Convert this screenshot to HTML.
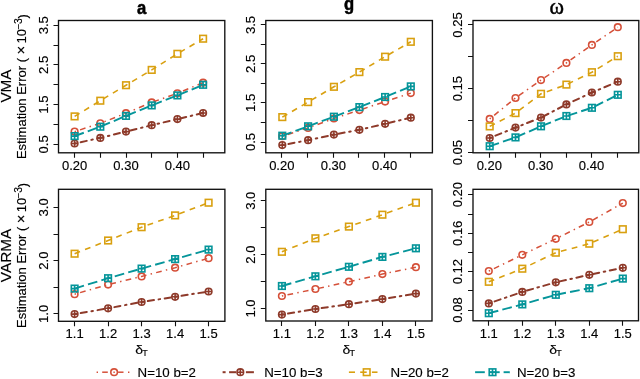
<!DOCTYPE html><html><head><meta charset="utf-8"><style>html,body{margin:0;padding:0;background:#fff;width:640px;height:379px;overflow:hidden}svg{display:block;will-change:transform}text{font-family:"Liberation Sans",sans-serif;stroke:#000;stroke-width:0.15px}</style></head><body>
<svg width="640" height="379" viewBox="0 0 640 379">
<rect width="640" height="379" fill="#fff"/>
<polyline points="74.6,131.6 100.3,123.3 126.0,113.2 151.7,102.4 177.4,93.3 203.1,82.7" fill="none" stroke="#D55039" stroke-width="1.5" stroke-dasharray="1.43 4.3 5.7 4.3" stroke-linecap="butt"/>
<circle cx="74.6" cy="131.6" r="3.3" fill="none" stroke="#D55039" stroke-width="1.6"/>
<circle cx="100.3" cy="123.3" r="3.3" fill="none" stroke="#D55039" stroke-width="1.6"/>
<circle cx="126.0" cy="113.2" r="3.3" fill="none" stroke="#D55039" stroke-width="1.6"/>
<circle cx="151.7" cy="102.4" r="3.3" fill="none" stroke="#D55039" stroke-width="1.6"/>
<circle cx="177.4" cy="93.3" r="3.3" fill="none" stroke="#D55039" stroke-width="1.6"/>
<circle cx="203.1" cy="82.7" r="3.3" fill="none" stroke="#D55039" stroke-width="1.6"/>
<polyline points="74.6,143.5 100.3,137.9 126.0,131.6 151.7,125.2 177.4,119.1 203.1,113.0" fill="none" stroke="#8E3A2A" stroke-width="2.0" stroke-dasharray="1.55 4.65 6.2 4.65" stroke-linecap="round"/>
<circle cx="74.6" cy="143.5" r="3.3" fill="none" stroke="#8E3A2A" stroke-width="1.6"/><path d="M71.3 143.5H77.9M74.6 140.2V146.8" stroke="#8E3A2A" stroke-width="1.6"/>
<circle cx="100.3" cy="137.9" r="3.3" fill="none" stroke="#8E3A2A" stroke-width="1.6"/><path d="M97.0 137.9H103.6M100.3 134.6V141.2" stroke="#8E3A2A" stroke-width="1.6"/>
<circle cx="126.0" cy="131.6" r="3.3" fill="none" stroke="#8E3A2A" stroke-width="1.6"/><path d="M122.7 131.6H129.3M126.0 128.3V134.9" stroke="#8E3A2A" stroke-width="1.6"/>
<circle cx="151.7" cy="125.2" r="3.3" fill="none" stroke="#8E3A2A" stroke-width="1.6"/><path d="M148.4 125.2H155.0M151.7 121.9V128.5" stroke="#8E3A2A" stroke-width="1.6"/>
<circle cx="177.4" cy="119.1" r="3.3" fill="none" stroke="#8E3A2A" stroke-width="1.6"/><path d="M174.1 119.1H180.7M177.4 115.8V122.4" stroke="#8E3A2A" stroke-width="1.6"/>
<circle cx="203.1" cy="113.0" r="3.3" fill="none" stroke="#8E3A2A" stroke-width="1.6"/><path d="M199.8 113.0H206.4M203.1 109.7V116.3" stroke="#8E3A2A" stroke-width="1.6"/>
<polyline points="74.6,116.4 100.3,100.7 126.0,85.2 151.7,69.9 177.4,53.8 203.1,38.7" fill="none" stroke="#D9A010" stroke-width="1.6" stroke-dasharray="5.8 5.4" stroke-linecap="butt"/>
<rect x="71.3" y="113.1" width="6.6" height="6.6" fill="none" stroke="#D9A010" stroke-width="1.6"/>
<rect x="97.0" y="97.4" width="6.6" height="6.6" fill="none" stroke="#D9A010" stroke-width="1.6"/>
<rect x="122.7" y="81.9" width="6.6" height="6.6" fill="none" stroke="#D9A010" stroke-width="1.6"/>
<rect x="148.4" y="66.6" width="6.6" height="6.6" fill="none" stroke="#D9A010" stroke-width="1.6"/>
<rect x="174.1" y="50.5" width="6.6" height="6.6" fill="none" stroke="#D9A010" stroke-width="1.6"/>
<rect x="199.8" y="35.4" width="6.6" height="6.6" fill="none" stroke="#D9A010" stroke-width="1.6"/>
<polyline points="74.6,136.1 100.3,126.7 126.0,115.9 151.7,105.4 177.4,95.4 203.1,84.8" fill="none" stroke="#05959A" stroke-width="1.9" stroke-dasharray="9.8 4.2" stroke-linecap="butt"/>
<rect x="71.3" y="132.8" width="6.6" height="6.6" fill="none" stroke="#05959A" stroke-width="1.6"/><path d="M71.3 136.1H77.9M74.6 132.8V139.4" stroke="#05959A" stroke-width="1.6"/>
<rect x="97.0" y="123.4" width="6.6" height="6.6" fill="none" stroke="#05959A" stroke-width="1.6"/><path d="M97.0 126.7H103.6M100.3 123.4V130.0" stroke="#05959A" stroke-width="1.6"/>
<rect x="122.7" y="112.6" width="6.6" height="6.6" fill="none" stroke="#05959A" stroke-width="1.6"/><path d="M122.7 115.9H129.3M126.0 112.6V119.2" stroke="#05959A" stroke-width="1.6"/>
<rect x="148.4" y="102.1" width="6.6" height="6.6" fill="none" stroke="#05959A" stroke-width="1.6"/><path d="M148.4 105.4H155.0M151.7 102.1V108.7" stroke="#05959A" stroke-width="1.6"/>
<rect x="174.1" y="92.1" width="6.6" height="6.6" fill="none" stroke="#05959A" stroke-width="1.6"/><path d="M174.1 95.4H180.7M177.4 92.1V98.7" stroke="#05959A" stroke-width="1.6"/>
<rect x="199.8" y="81.5" width="6.6" height="6.6" fill="none" stroke="#05959A" stroke-width="1.6"/><path d="M199.8 84.8H206.4M203.1 81.5V88.1" stroke="#05959A" stroke-width="1.6"/>
<rect x="58.5" y="20.5" width="166.3" height="132.3" fill="none" stroke="#111" stroke-width="1.35"/>
<path d="M53.5 144.5H58.5M53.5 124.5H58.5M53.5 104.5H58.5M53.5 84.5H58.5M53.5 64.5H58.5M53.5 45.5H58.5M53.5 25.5H58.5M74.5 152.8V157.8M100.5 152.8V157.8M126.5 152.8V157.8M151.5 152.8V157.8M177.5 152.8V157.8M203.5 152.8V157.8" stroke="#111" stroke-width="1.1"/>
<text transform="translate(47.8,144.4) rotate(-90)" text-anchor="middle" font-size="13">0.5</text>
<text transform="translate(47.8,104.6) rotate(-90)" text-anchor="middle" font-size="13">1.5</text>
<text transform="translate(47.8,64.9) rotate(-90)" text-anchor="middle" font-size="13">2.5</text>
<text transform="translate(47.8,25.2) rotate(-90)" text-anchor="middle" font-size="13">3.5</text>
<text x="74.6" y="169.7" text-anchor="middle" font-size="13">0.20</text>
<text x="126.0" y="169.7" text-anchor="middle" font-size="13">0.30</text>
<text x="177.4" y="169.7" text-anchor="middle" font-size="13">0.40</text>
<text transform="translate(141.7,14) scale(0.98,1.06)" text-anchor="middle" font-size="17" font-weight="bold" style="stroke-width:0.5px">a</text>
<polyline points="282.3,136.2 308.1,127.9 333.9,118.5 359.4,110.1 385.1,101.6 410.8,93.1" fill="none" stroke="#D55039" stroke-width="1.5" stroke-dasharray="1.43 4.3 5.7 4.3" stroke-linecap="butt"/>
<circle cx="282.3" cy="136.2" r="3.3" fill="none" stroke="#D55039" stroke-width="1.6"/>
<circle cx="308.1" cy="127.9" r="3.3" fill="none" stroke="#D55039" stroke-width="1.6"/>
<circle cx="333.9" cy="118.5" r="3.3" fill="none" stroke="#D55039" stroke-width="1.6"/>
<circle cx="359.4" cy="110.1" r="3.3" fill="none" stroke="#D55039" stroke-width="1.6"/>
<circle cx="385.1" cy="101.6" r="3.3" fill="none" stroke="#D55039" stroke-width="1.6"/>
<circle cx="410.8" cy="93.1" r="3.3" fill="none" stroke="#D55039" stroke-width="1.6"/>
<polyline points="282.3,145.1 308.1,140.2 333.9,134.6 359.4,129.8 385.1,123.8 410.8,117.7" fill="none" stroke="#8E3A2A" stroke-width="2.0" stroke-dasharray="1.55 4.65 6.2 4.65" stroke-linecap="round"/>
<circle cx="282.3" cy="145.1" r="3.3" fill="none" stroke="#8E3A2A" stroke-width="1.6"/><path d="M279.0 145.1H285.6M282.3 141.8V148.4" stroke="#8E3A2A" stroke-width="1.6"/>
<circle cx="308.1" cy="140.2" r="3.3" fill="none" stroke="#8E3A2A" stroke-width="1.6"/><path d="M304.8 140.2H311.4M308.1 136.9V143.5" stroke="#8E3A2A" stroke-width="1.6"/>
<circle cx="333.9" cy="134.6" r="3.3" fill="none" stroke="#8E3A2A" stroke-width="1.6"/><path d="M330.6 134.6H337.2M333.9 131.3V137.9" stroke="#8E3A2A" stroke-width="1.6"/>
<circle cx="359.4" cy="129.8" r="3.3" fill="none" stroke="#8E3A2A" stroke-width="1.6"/><path d="M356.1 129.8H362.7M359.4 126.5V133.1" stroke="#8E3A2A" stroke-width="1.6"/>
<circle cx="385.1" cy="123.8" r="3.3" fill="none" stroke="#8E3A2A" stroke-width="1.6"/><path d="M381.8 123.8H388.4M385.1 120.5V127.1" stroke="#8E3A2A" stroke-width="1.6"/>
<circle cx="410.8" cy="117.7" r="3.3" fill="none" stroke="#8E3A2A" stroke-width="1.6"/><path d="M407.5 117.7H414.1M410.8 114.4V121.0" stroke="#8E3A2A" stroke-width="1.6"/>
<polyline points="282.3,117.1 308.1,102.1 333.9,86.8 359.4,72.1 385.1,56.7 410.8,41.8" fill="none" stroke="#D9A010" stroke-width="1.6" stroke-dasharray="5.8 5.4" stroke-linecap="butt"/>
<rect x="279.0" y="113.8" width="6.6" height="6.6" fill="none" stroke="#D9A010" stroke-width="1.6"/>
<rect x="304.8" y="98.8" width="6.6" height="6.6" fill="none" stroke="#D9A010" stroke-width="1.6"/>
<rect x="330.6" y="83.5" width="6.6" height="6.6" fill="none" stroke="#D9A010" stroke-width="1.6"/>
<rect x="356.1" y="68.8" width="6.6" height="6.6" fill="none" stroke="#D9A010" stroke-width="1.6"/>
<rect x="381.8" y="53.4" width="6.6" height="6.6" fill="none" stroke="#D9A010" stroke-width="1.6"/>
<rect x="407.5" y="38.5" width="6.6" height="6.6" fill="none" stroke="#D9A010" stroke-width="1.6"/>
<polyline points="282.3,135.7 308.1,126.3 333.9,116.7 359.4,107.1 385.1,97.0 410.8,86.4" fill="none" stroke="#05959A" stroke-width="1.9" stroke-dasharray="9.8 4.2" stroke-linecap="butt"/>
<rect x="279.0" y="132.4" width="6.6" height="6.6" fill="none" stroke="#05959A" stroke-width="1.6"/><path d="M279.0 135.7H285.6M282.3 132.4V139.0" stroke="#05959A" stroke-width="1.6"/>
<rect x="304.8" y="123.0" width="6.6" height="6.6" fill="none" stroke="#05959A" stroke-width="1.6"/><path d="M304.8 126.3H311.4M308.1 123.0V129.6" stroke="#05959A" stroke-width="1.6"/>
<rect x="330.6" y="113.4" width="6.6" height="6.6" fill="none" stroke="#05959A" stroke-width="1.6"/><path d="M330.6 116.7H337.2M333.9 113.4V120.0" stroke="#05959A" stroke-width="1.6"/>
<rect x="356.1" y="103.8" width="6.6" height="6.6" fill="none" stroke="#05959A" stroke-width="1.6"/><path d="M356.1 107.1H362.7M359.4 103.8V110.4" stroke="#05959A" stroke-width="1.6"/>
<rect x="381.8" y="93.7" width="6.6" height="6.6" fill="none" stroke="#05959A" stroke-width="1.6"/><path d="M381.8 97.0H388.4M385.1 93.7V100.3" stroke="#05959A" stroke-width="1.6"/>
<rect x="407.5" y="83.1" width="6.6" height="6.6" fill="none" stroke="#05959A" stroke-width="1.6"/><path d="M407.5 86.4H414.1M410.8 83.1V89.7" stroke="#05959A" stroke-width="1.6"/>
<rect x="265.8" y="20.5" width="166.6" height="132.3" fill="none" stroke="#111" stroke-width="1.35"/>
<path d="M260.8 142.5H265.8M260.8 122.5H265.8M260.8 102.5H265.8M260.8 83.5H265.8M260.8 63.5H265.8M260.8 44.5H265.8M260.8 24.5H265.8M281.5 152.8V157.8M307.5 152.8V157.8M333.5 152.8V157.8M358.5 152.8V157.8M384.5 152.8V157.8M410.5 152.8V157.8" stroke="#111" stroke-width="1.1"/>
<text transform="translate(255.1,142.0) rotate(-90)" text-anchor="middle" font-size="13">0.5</text>
<text transform="translate(255.1,102.9) rotate(-90)" text-anchor="middle" font-size="13">1.5</text>
<text transform="translate(255.1,63.9) rotate(-90)" text-anchor="middle" font-size="13">2.5</text>
<text transform="translate(255.1,25.0) rotate(-90)" text-anchor="middle" font-size="13">3.5</text>
<text x="281.8" y="169.7" text-anchor="middle" font-size="13">0.20</text>
<text x="333.4" y="169.7" text-anchor="middle" font-size="13">0.30</text>
<text x="384.6" y="169.7" text-anchor="middle" font-size="13">0.40</text>
<text transform="translate(349.1,10.4) scale(0.98,1.06)" text-anchor="middle" font-size="17" font-weight="bold" style="stroke-width:0.5px">g</text>
<polyline points="489.7,118.9 515.5,98.0 541.0,80.1 566.4,62.9 591.9,44.9 617.8,27.2" fill="none" stroke="#D55039" stroke-width="1.5" stroke-dasharray="1.43 4.3 5.7 4.3" stroke-linecap="butt"/>
<circle cx="489.7" cy="118.9" r="3.3" fill="none" stroke="#D55039" stroke-width="1.6"/>
<circle cx="515.5" cy="98.0" r="3.3" fill="none" stroke="#D55039" stroke-width="1.6"/>
<circle cx="541.0" cy="80.1" r="3.3" fill="none" stroke="#D55039" stroke-width="1.6"/>
<circle cx="566.4" cy="62.9" r="3.3" fill="none" stroke="#D55039" stroke-width="1.6"/>
<circle cx="591.9" cy="44.9" r="3.3" fill="none" stroke="#D55039" stroke-width="1.6"/>
<circle cx="617.8" cy="27.2" r="3.3" fill="none" stroke="#D55039" stroke-width="1.6"/>
<polyline points="489.7,138.0 515.5,127.6 541.0,117.6 566.4,104.4 591.9,92.5 617.8,81.7" fill="none" stroke="#8E3A2A" stroke-width="2.0" stroke-dasharray="1.55 4.65 6.2 4.65" stroke-linecap="round"/>
<circle cx="489.7" cy="138.0" r="3.3" fill="none" stroke="#8E3A2A" stroke-width="1.6"/><path d="M486.4 138.0H493.0M489.7 134.7V141.3" stroke="#8E3A2A" stroke-width="1.6"/>
<circle cx="515.5" cy="127.6" r="3.3" fill="none" stroke="#8E3A2A" stroke-width="1.6"/><path d="M512.2 127.6H518.8M515.5 124.3V130.9" stroke="#8E3A2A" stroke-width="1.6"/>
<circle cx="541.0" cy="117.6" r="3.3" fill="none" stroke="#8E3A2A" stroke-width="1.6"/><path d="M537.7 117.6H544.3M541.0 114.3V120.9" stroke="#8E3A2A" stroke-width="1.6"/>
<circle cx="566.4" cy="104.4" r="3.3" fill="none" stroke="#8E3A2A" stroke-width="1.6"/><path d="M563.1 104.4H569.7M566.4 101.1V107.7" stroke="#8E3A2A" stroke-width="1.6"/>
<circle cx="591.9" cy="92.5" r="3.3" fill="none" stroke="#8E3A2A" stroke-width="1.6"/><path d="M588.6 92.5H595.2M591.9 89.2V95.8" stroke="#8E3A2A" stroke-width="1.6"/>
<circle cx="617.8" cy="81.7" r="3.3" fill="none" stroke="#8E3A2A" stroke-width="1.6"/><path d="M614.5 81.7H621.1M617.8 78.4V85.0" stroke="#8E3A2A" stroke-width="1.6"/>
<polyline points="489.7,126.4 515.5,113.1 541.0,93.8 566.4,84.6 591.9,72.2 617.8,56.2" fill="none" stroke="#D9A010" stroke-width="1.6" stroke-dasharray="5.8 5.4" stroke-linecap="butt"/>
<rect x="486.4" y="123.1" width="6.6" height="6.6" fill="none" stroke="#D9A010" stroke-width="1.6"/>
<rect x="512.2" y="109.8" width="6.6" height="6.6" fill="none" stroke="#D9A010" stroke-width="1.6"/>
<rect x="537.7" y="90.5" width="6.6" height="6.6" fill="none" stroke="#D9A010" stroke-width="1.6"/>
<rect x="563.1" y="81.3" width="6.6" height="6.6" fill="none" stroke="#D9A010" stroke-width="1.6"/>
<rect x="588.6" y="68.9" width="6.6" height="6.6" fill="none" stroke="#D9A010" stroke-width="1.6"/>
<rect x="614.5" y="52.9" width="6.6" height="6.6" fill="none" stroke="#D9A010" stroke-width="1.6"/>
<polyline points="489.7,146.2 515.5,137.4 541.0,126.3 566.4,116.0 591.9,107.8 617.8,94.8" fill="none" stroke="#05959A" stroke-width="1.9" stroke-dasharray="9.8 4.2" stroke-linecap="butt"/>
<rect x="486.4" y="142.9" width="6.6" height="6.6" fill="none" stroke="#05959A" stroke-width="1.6"/><path d="M486.4 146.2H493.0M489.7 142.9V149.5" stroke="#05959A" stroke-width="1.6"/>
<rect x="512.2" y="134.1" width="6.6" height="6.6" fill="none" stroke="#05959A" stroke-width="1.6"/><path d="M512.2 137.4H518.8M515.5 134.1V140.7" stroke="#05959A" stroke-width="1.6"/>
<rect x="537.7" y="123.0" width="6.6" height="6.6" fill="none" stroke="#05959A" stroke-width="1.6"/><path d="M537.7 126.3H544.3M541.0 123.0V129.6" stroke="#05959A" stroke-width="1.6"/>
<rect x="563.1" y="112.7" width="6.6" height="6.6" fill="none" stroke="#05959A" stroke-width="1.6"/><path d="M563.1 116.0H569.7M566.4 112.7V119.3" stroke="#05959A" stroke-width="1.6"/>
<rect x="588.6" y="104.5" width="6.6" height="6.6" fill="none" stroke="#05959A" stroke-width="1.6"/><path d="M588.6 107.8H595.2M591.9 104.5V111.1" stroke="#05959A" stroke-width="1.6"/>
<rect x="614.5" y="91.5" width="6.6" height="6.6" fill="none" stroke="#05959A" stroke-width="1.6"/><path d="M614.5 94.8H621.1M617.8 91.5V98.1" stroke="#05959A" stroke-width="1.6"/>
<rect x="473.0" y="20.5" width="165.8" height="132.3" fill="none" stroke="#111" stroke-width="1.35"/>
<path d="M468.0 152.5H473.0M468.0 120.5H473.0M468.0 88.5H473.0M468.0 56.5H473.0M468.0 24.5H473.0M489.5 152.8V157.8M515.5 152.8V157.8M540.5 152.8V157.8M566.5 152.8V157.8M591.5 152.8V157.8M617.5 152.8V157.8" stroke="#111" stroke-width="1.1"/>
<text transform="translate(462.3,152.6) rotate(-90)" text-anchor="middle" font-size="13">0.05</text>
<text transform="translate(462.3,88.7) rotate(-90)" text-anchor="middle" font-size="13">0.15</text>
<text transform="translate(462.3,25.0) rotate(-90)" text-anchor="middle" font-size="13">0.25</text>
<text x="489.3" y="169.7" text-anchor="middle" font-size="13">0.20</text>
<text x="540.6" y="169.7" text-anchor="middle" font-size="13">0.30</text>
<text x="591.5" y="169.7" text-anchor="middle" font-size="13">0.40</text>
<text transform="translate(556.7,14) scale(1,1.06)" text-anchor="middle" font-size="22" style="stroke-width:0.45px;font-family:'Liberation Serif',serif">&#969;</text>
<polyline points="74.6,294.2 108.1,284.6 141.6,276.4 175.1,267.7 208.6,258.2" fill="none" stroke="#D55039" stroke-width="1.5" stroke-dasharray="1.43 4.3 5.7 4.3" stroke-linecap="butt"/>
<circle cx="74.6" cy="294.2" r="3.3" fill="none" stroke="#D55039" stroke-width="1.6"/>
<circle cx="108.1" cy="284.6" r="3.3" fill="none" stroke="#D55039" stroke-width="1.6"/>
<circle cx="141.6" cy="276.4" r="3.3" fill="none" stroke="#D55039" stroke-width="1.6"/>
<circle cx="175.1" cy="267.7" r="3.3" fill="none" stroke="#D55039" stroke-width="1.6"/>
<circle cx="208.6" cy="258.2" r="3.3" fill="none" stroke="#D55039" stroke-width="1.6"/>
<polyline points="74.6,314.1 108.1,308.3 141.6,302.0 175.1,296.8 208.6,291.5" fill="none" stroke="#8E3A2A" stroke-width="2.0" stroke-dasharray="1.55 4.65 6.2 4.65" stroke-linecap="round"/>
<circle cx="74.6" cy="314.1" r="3.3" fill="none" stroke="#8E3A2A" stroke-width="1.6"/><path d="M71.3 314.1H77.9M74.6 310.8V317.4" stroke="#8E3A2A" stroke-width="1.6"/>
<circle cx="108.1" cy="308.3" r="3.3" fill="none" stroke="#8E3A2A" stroke-width="1.6"/><path d="M104.8 308.3H111.4M108.1 305.0V311.6" stroke="#8E3A2A" stroke-width="1.6"/>
<circle cx="141.6" cy="302.0" r="3.3" fill="none" stroke="#8E3A2A" stroke-width="1.6"/><path d="M138.3 302.0H144.9M141.6 298.7V305.3" stroke="#8E3A2A" stroke-width="1.6"/>
<circle cx="175.1" cy="296.8" r="3.3" fill="none" stroke="#8E3A2A" stroke-width="1.6"/><path d="M171.8 296.8H178.4M175.1 293.5V300.1" stroke="#8E3A2A" stroke-width="1.6"/>
<circle cx="208.6" cy="291.5" r="3.3" fill="none" stroke="#8E3A2A" stroke-width="1.6"/><path d="M205.3 291.5H211.9M208.6 288.2V294.8" stroke="#8E3A2A" stroke-width="1.6"/>
<polyline points="74.6,253.7 108.1,240.5 141.6,227.2 175.1,215.4 208.6,202.7" fill="none" stroke="#D9A010" stroke-width="1.6" stroke-dasharray="5.8 5.4" stroke-linecap="butt"/>
<rect x="71.3" y="250.4" width="6.6" height="6.6" fill="none" stroke="#D9A010" stroke-width="1.6"/>
<rect x="104.8" y="237.2" width="6.6" height="6.6" fill="none" stroke="#D9A010" stroke-width="1.6"/>
<rect x="138.3" y="223.9" width="6.6" height="6.6" fill="none" stroke="#D9A010" stroke-width="1.6"/>
<rect x="171.8" y="212.1" width="6.6" height="6.6" fill="none" stroke="#D9A010" stroke-width="1.6"/>
<rect x="205.3" y="199.4" width="6.6" height="6.6" fill="none" stroke="#D9A010" stroke-width="1.6"/>
<polyline points="74.6,288.6 108.1,278.2 141.6,268.6 175.1,259.1 208.6,249.6" fill="none" stroke="#05959A" stroke-width="1.9" stroke-dasharray="9.8 4.2" stroke-linecap="butt"/>
<rect x="71.3" y="285.3" width="6.6" height="6.6" fill="none" stroke="#05959A" stroke-width="1.6"/><path d="M71.3 288.6H77.9M74.6 285.3V291.9" stroke="#05959A" stroke-width="1.6"/>
<rect x="104.8" y="274.9" width="6.6" height="6.6" fill="none" stroke="#05959A" stroke-width="1.6"/><path d="M104.8 278.2H111.4M108.1 274.9V281.5" stroke="#05959A" stroke-width="1.6"/>
<rect x="138.3" y="265.3" width="6.6" height="6.6" fill="none" stroke="#05959A" stroke-width="1.6"/><path d="M138.3 268.6H144.9M141.6 265.3V271.9" stroke="#05959A" stroke-width="1.6"/>
<rect x="171.8" y="255.8" width="6.6" height="6.6" fill="none" stroke="#05959A" stroke-width="1.6"/><path d="M171.8 259.1H178.4M175.1 255.8V262.4" stroke="#05959A" stroke-width="1.6"/>
<rect x="205.3" y="246.3" width="6.6" height="6.6" fill="none" stroke="#05959A" stroke-width="1.6"/><path d="M205.3 249.6H211.9M208.6 246.3V252.9" stroke="#05959A" stroke-width="1.6"/>
<rect x="58.5" y="189.3" width="166.4" height="132.0" fill="none" stroke="#111" stroke-width="1.35"/>
<path d="M53.5 313.5H58.5M53.5 287.5H58.5M53.5 260.5H58.5M53.5 234.5H58.5M53.5 207.5H58.5M74.5 321.3V326.3M108.5 321.3V326.3M141.5 321.3V326.3M175.5 321.3V326.3M208.5 321.3V326.3" stroke="#111" stroke-width="1.1"/>
<text transform="translate(47.8,313.9) rotate(-90)" text-anchor="middle" font-size="13">1.0</text>
<text transform="translate(47.8,260.6) rotate(-90)" text-anchor="middle" font-size="13">2.0</text>
<text transform="translate(47.8,207.4) rotate(-90)" text-anchor="middle" font-size="13">3.0</text>
<text x="74.6" y="338.2" text-anchor="middle" font-size="13">1.1</text>
<text x="108.1" y="338.2" text-anchor="middle" font-size="13">1.2</text>
<text x="141.6" y="338.2" text-anchor="middle" font-size="13">1.3</text>
<text x="175.1" y="338.2" text-anchor="middle" font-size="13">1.4</text>
<text x="208.6" y="338.2" text-anchor="middle" font-size="13">1.5</text>
<text transform="translate(139.2,353.5) scale(1,0.9)" text-anchor="middle" font-size="14">&#948;</text>
<text x="145.0" y="355.5" text-anchor="middle" font-size="9">T</text>
<polyline points="281.9,296.0 315.4,289.0 348.9,281.7 382.4,274.1 415.9,267.2" fill="none" stroke="#D55039" stroke-width="1.5" stroke-dasharray="1.43 4.3 5.7 4.3" stroke-linecap="butt"/>
<circle cx="281.9" cy="296.0" r="3.3" fill="none" stroke="#D55039" stroke-width="1.6"/>
<circle cx="315.4" cy="289.0" r="3.3" fill="none" stroke="#D55039" stroke-width="1.6"/>
<circle cx="348.9" cy="281.7" r="3.3" fill="none" stroke="#D55039" stroke-width="1.6"/>
<circle cx="382.4" cy="274.1" r="3.3" fill="none" stroke="#D55039" stroke-width="1.6"/>
<circle cx="415.9" cy="267.2" r="3.3" fill="none" stroke="#D55039" stroke-width="1.6"/>
<polyline points="281.9,314.6 315.4,309.0 348.9,304.2 382.4,299.1 415.9,293.6" fill="none" stroke="#8E3A2A" stroke-width="2.0" stroke-dasharray="1.55 4.65 6.2 4.65" stroke-linecap="round"/>
<circle cx="281.9" cy="314.6" r="3.3" fill="none" stroke="#8E3A2A" stroke-width="1.6"/><path d="M278.6 314.6H285.2M281.9 311.3V317.9" stroke="#8E3A2A" stroke-width="1.6"/>
<circle cx="315.4" cy="309.0" r="3.3" fill="none" stroke="#8E3A2A" stroke-width="1.6"/><path d="M312.1 309.0H318.7M315.4 305.7V312.3" stroke="#8E3A2A" stroke-width="1.6"/>
<circle cx="348.9" cy="304.2" r="3.3" fill="none" stroke="#8E3A2A" stroke-width="1.6"/><path d="M345.6 304.2H352.2M348.9 300.9V307.5" stroke="#8E3A2A" stroke-width="1.6"/>
<circle cx="382.4" cy="299.1" r="3.3" fill="none" stroke="#8E3A2A" stroke-width="1.6"/><path d="M379.1 299.1H385.7M382.4 295.8V302.4" stroke="#8E3A2A" stroke-width="1.6"/>
<circle cx="415.9" cy="293.6" r="3.3" fill="none" stroke="#8E3A2A" stroke-width="1.6"/><path d="M412.6 293.6H419.2M415.9 290.3V296.9" stroke="#8E3A2A" stroke-width="1.6"/>
<polyline points="281.9,251.8 315.4,238.3 348.9,226.6 382.4,214.7 415.9,202.7" fill="none" stroke="#D9A010" stroke-width="1.6" stroke-dasharray="5.8 5.4" stroke-linecap="butt"/>
<rect x="278.6" y="248.5" width="6.6" height="6.6" fill="none" stroke="#D9A010" stroke-width="1.6"/>
<rect x="312.1" y="235.0" width="6.6" height="6.6" fill="none" stroke="#D9A010" stroke-width="1.6"/>
<rect x="345.6" y="223.3" width="6.6" height="6.6" fill="none" stroke="#D9A010" stroke-width="1.6"/>
<rect x="379.1" y="211.4" width="6.6" height="6.6" fill="none" stroke="#D9A010" stroke-width="1.6"/>
<rect x="412.6" y="199.4" width="6.6" height="6.6" fill="none" stroke="#D9A010" stroke-width="1.6"/>
<polyline points="281.9,286.0 315.4,276.3 348.9,266.8 382.4,256.9 415.9,248.3" fill="none" stroke="#05959A" stroke-width="1.9" stroke-dasharray="9.8 4.2" stroke-linecap="butt"/>
<rect x="278.6" y="282.7" width="6.6" height="6.6" fill="none" stroke="#05959A" stroke-width="1.6"/><path d="M278.6 286.0H285.2M281.9 282.7V289.3" stroke="#05959A" stroke-width="1.6"/>
<rect x="312.1" y="273.0" width="6.6" height="6.6" fill="none" stroke="#05959A" stroke-width="1.6"/><path d="M312.1 276.3H318.7M315.4 273.0V279.6" stroke="#05959A" stroke-width="1.6"/>
<rect x="345.6" y="263.5" width="6.6" height="6.6" fill="none" stroke="#05959A" stroke-width="1.6"/><path d="M345.6 266.8H352.2M348.9 263.5V270.1" stroke="#05959A" stroke-width="1.6"/>
<rect x="379.1" y="253.6" width="6.6" height="6.6" fill="none" stroke="#05959A" stroke-width="1.6"/><path d="M379.1 256.9H385.7M382.4 253.6V260.2" stroke="#05959A" stroke-width="1.6"/>
<rect x="412.6" y="245.0" width="6.6" height="6.6" fill="none" stroke="#05959A" stroke-width="1.6"/><path d="M412.6 248.3H419.2M415.9 245.0V251.6" stroke="#05959A" stroke-width="1.6"/>
<rect x="265.8" y="189.3" width="166.2" height="131.7" fill="none" stroke="#111" stroke-width="1.35"/>
<path d="M260.8 308.5H265.8M260.8 281.5H265.8M260.8 254.5H265.8M260.8 227.5H265.8M260.8 200.5H265.8M281.5 321.0V326.0M315.5 321.0V326.0M348.5 321.0V326.0M382.5 321.0V326.0M415.5 321.0V326.0" stroke="#111" stroke-width="1.1"/>
<text transform="translate(255.1,308.5) rotate(-90)" text-anchor="middle" font-size="13">1.0</text>
<text transform="translate(255.1,254.6) rotate(-90)" text-anchor="middle" font-size="13">2.0</text>
<text transform="translate(255.1,200.7) rotate(-90)" text-anchor="middle" font-size="13">3.0</text>
<text x="281.9" y="337.9" text-anchor="middle" font-size="13">1.1</text>
<text x="315.4" y="337.9" text-anchor="middle" font-size="13">1.2</text>
<text x="348.9" y="337.9" text-anchor="middle" font-size="13">1.3</text>
<text x="382.4" y="337.9" text-anchor="middle" font-size="13">1.4</text>
<text x="415.9" y="337.9" text-anchor="middle" font-size="13">1.5</text>
<text transform="translate(346.4,353.5) scale(1,0.9)" text-anchor="middle" font-size="14">&#948;</text>
<text x="352.2" y="355.5" text-anchor="middle" font-size="9">T</text>
<polyline points="488.8,271.1 522.3,254.8 555.8,238.8 589.3,222.0 622.8,203.1" fill="none" stroke="#D55039" stroke-width="1.5" stroke-dasharray="1.43 4.3 5.7 4.3" stroke-linecap="butt"/>
<circle cx="488.8" cy="271.1" r="3.3" fill="none" stroke="#D55039" stroke-width="1.6"/>
<circle cx="522.3" cy="254.8" r="3.3" fill="none" stroke="#D55039" stroke-width="1.6"/>
<circle cx="555.8" cy="238.8" r="3.3" fill="none" stroke="#D55039" stroke-width="1.6"/>
<circle cx="589.3" cy="222.0" r="3.3" fill="none" stroke="#D55039" stroke-width="1.6"/>
<circle cx="622.8" cy="203.1" r="3.3" fill="none" stroke="#D55039" stroke-width="1.6"/>
<polyline points="488.8,303.4 522.3,291.9 555.8,282.3 589.3,274.8 622.8,267.8" fill="none" stroke="#8E3A2A" stroke-width="2.0" stroke-dasharray="1.55 4.65 6.2 4.65" stroke-linecap="round"/>
<circle cx="488.8" cy="303.4" r="3.3" fill="none" stroke="#8E3A2A" stroke-width="1.6"/><path d="M485.5 303.4H492.1M488.8 300.1V306.7" stroke="#8E3A2A" stroke-width="1.6"/>
<circle cx="522.3" cy="291.9" r="3.3" fill="none" stroke="#8E3A2A" stroke-width="1.6"/><path d="M519.0 291.9H525.6M522.3 288.6V295.2" stroke="#8E3A2A" stroke-width="1.6"/>
<circle cx="555.8" cy="282.3" r="3.3" fill="none" stroke="#8E3A2A" stroke-width="1.6"/><path d="M552.5 282.3H559.1M555.8 279.0V285.6" stroke="#8E3A2A" stroke-width="1.6"/>
<circle cx="589.3" cy="274.8" r="3.3" fill="none" stroke="#8E3A2A" stroke-width="1.6"/><path d="M586.0 274.8H592.6M589.3 271.5V278.1" stroke="#8E3A2A" stroke-width="1.6"/>
<circle cx="622.8" cy="267.8" r="3.3" fill="none" stroke="#8E3A2A" stroke-width="1.6"/><path d="M619.5 267.8H626.1M622.8 264.5V271.1" stroke="#8E3A2A" stroke-width="1.6"/>
<polyline points="488.8,281.8 522.3,268.7 555.8,252.7 589.3,243.7 622.8,229.2" fill="none" stroke="#D9A010" stroke-width="1.6" stroke-dasharray="5.8 5.4" stroke-linecap="butt"/>
<rect x="485.5" y="278.5" width="6.6" height="6.6" fill="none" stroke="#D9A010" stroke-width="1.6"/>
<rect x="519.0" y="265.4" width="6.6" height="6.6" fill="none" stroke="#D9A010" stroke-width="1.6"/>
<rect x="552.5" y="249.4" width="6.6" height="6.6" fill="none" stroke="#D9A010" stroke-width="1.6"/>
<rect x="586.0" y="240.4" width="6.6" height="6.6" fill="none" stroke="#D9A010" stroke-width="1.6"/>
<rect x="619.5" y="225.9" width="6.6" height="6.6" fill="none" stroke="#D9A010" stroke-width="1.6"/>
<polyline points="488.8,313.2 522.3,304.4 555.8,294.8 589.3,288.2 622.8,278.6" fill="none" stroke="#05959A" stroke-width="1.9" stroke-dasharray="9.8 4.2" stroke-linecap="butt"/>
<rect x="485.5" y="309.9" width="6.6" height="6.6" fill="none" stroke="#05959A" stroke-width="1.6"/><path d="M485.5 313.2H492.1M488.8 309.9V316.5" stroke="#05959A" stroke-width="1.6"/>
<rect x="519.0" y="301.1" width="6.6" height="6.6" fill="none" stroke="#05959A" stroke-width="1.6"/><path d="M519.0 304.4H525.6M522.3 301.1V307.7" stroke="#05959A" stroke-width="1.6"/>
<rect x="552.5" y="291.5" width="6.6" height="6.6" fill="none" stroke="#05959A" stroke-width="1.6"/><path d="M552.5 294.8H559.1M555.8 291.5V298.1" stroke="#05959A" stroke-width="1.6"/>
<rect x="586.0" y="284.9" width="6.6" height="6.6" fill="none" stroke="#05959A" stroke-width="1.6"/><path d="M586.0 288.2H592.6M589.3 284.9V291.5" stroke="#05959A" stroke-width="1.6"/>
<rect x="619.5" y="275.3" width="6.6" height="6.6" fill="none" stroke="#05959A" stroke-width="1.6"/><path d="M619.5 278.6H626.1M622.8 275.3V281.9" stroke="#05959A" stroke-width="1.6"/>
<rect x="473.0" y="189.3" width="165.5" height="131.5" fill="none" stroke="#111" stroke-width="1.35"/>
<path d="M468.0 310.5H473.0M468.0 290.5H473.0M468.0 271.5H473.0M468.0 252.5H473.0M468.0 233.5H473.0M468.0 214.5H473.0M468.0 194.5H473.0M488.5 320.8V325.8M522.5 320.8V325.8M555.5 320.8V325.8M589.5 320.8V325.8M622.5 320.8V325.8" stroke="#111" stroke-width="1.1"/>
<text transform="translate(462.3,310.0) rotate(-90)" text-anchor="middle" font-size="13">0.08</text>
<text transform="translate(462.3,271.6) rotate(-90)" text-anchor="middle" font-size="13">0.12</text>
<text transform="translate(462.3,233.3) rotate(-90)" text-anchor="middle" font-size="13">0.16</text>
<text transform="translate(462.3,194.7) rotate(-90)" text-anchor="middle" font-size="13">0.20</text>
<text x="488.8" y="337.7" text-anchor="middle" font-size="13">1.1</text>
<text x="522.3" y="337.7" text-anchor="middle" font-size="13">1.2</text>
<text x="555.8" y="337.7" text-anchor="middle" font-size="13">1.3</text>
<text x="589.3" y="337.7" text-anchor="middle" font-size="13">1.4</text>
<text x="622.8" y="337.7" text-anchor="middle" font-size="13">1.5</text>
<text transform="translate(553.2,353.5) scale(1,0.9)" text-anchor="middle" font-size="14">&#948;</text>
<text x="559.0" y="355.5" text-anchor="middle" font-size="9">T</text>
<text transform="translate(11.3,86.0) rotate(-90)" text-anchor="middle" font-size="15.3">VMA</text>
<text transform="translate(11.3,255.5) rotate(-90)" text-anchor="middle" font-size="15.3">VARMA</text>
<text transform="translate(26.4,159.1) rotate(-90)" text-anchor="start" font-size="13">Estimation Error (</text>
<text transform="translate(26.4,50.0) rotate(-90)" text-anchor="middle" font-size="15">&#215;</text>
<text transform="translate(26.4,36.2) rotate(-90)" text-anchor="middle" font-size="13">10</text>
<text transform="translate(21.6,24.2) rotate(-90)" text-anchor="middle" font-size="10.3">&#8722;3</text>
<text transform="translate(27.2,16.4) rotate(-90)" text-anchor="middle" font-size="13">)</text>
<text transform="translate(26.4,327.9) rotate(-90)" text-anchor="start" font-size="13">Estimation Error (</text>
<text transform="translate(26.4,218.9) rotate(-90)" text-anchor="middle" font-size="15">&#215;</text>
<text transform="translate(26.4,205.1) rotate(-90)" text-anchor="middle" font-size="13">10</text>
<text transform="translate(21.6,193.0) rotate(-90)" text-anchor="middle" font-size="10.3">&#8722;3</text>
<text transform="translate(27.2,185.2) rotate(-90)" text-anchor="middle" font-size="13">)</text>
<path d="M96.6 372.2H98.0" stroke="#D55039" stroke-width="1.5"/>
<path d="M102.2 372.2H107.8" stroke="#D55039" stroke-width="1.5"/>
<path d="M113.4 372.2H114.8" stroke="#D55039" stroke-width="1.5"/>
<path d="M118.1 372.2H123.5" stroke="#D55039" stroke-width="1.5"/>
<path d="M128.0 372.2H129.4" stroke="#D55039" stroke-width="1.5"/>
<circle cx="114.1" cy="372.2" r="3.3" fill="none" stroke="#D55039" stroke-width="1.6"/>
<path d="M222.6 372.2H225.6" stroke="#8E3A2A" stroke-width="2.0"/>
<path d="M229.1 372.2H236.1" stroke="#8E3A2A" stroke-width="2.0"/>
<path d="M239.6 372.2H241.0" stroke="#8E3A2A" stroke-width="2.0"/>
<path d="M245.9 372.2H253.9" stroke="#8E3A2A" stroke-width="2.0"/>
<circle cx="240.3" cy="372.2" r="3.3" fill="none" stroke="#8E3A2A" stroke-width="1.6"/><path d="M237.0 372.2H243.6M240.3 368.9V375.5" stroke="#8E3A2A" stroke-width="1.6"/>
<path d="M348.9 372.2H355.0" stroke="#D9A010" stroke-width="1.6"/>
<path d="M360.2 372.2H366.7" stroke="#D9A010" stroke-width="1.6"/>
<path d="M371.9 372.2H377.5" stroke="#D9A010" stroke-width="1.6"/>
<rect x="363.4" y="368.9" width="6.6" height="6.6" fill="none" stroke="#D9A010" stroke-width="1.6"/>
<path d="M475.1 372.2H484.8" stroke="#05959A" stroke-width="1.9"/>
<path d="M489.0 372.2H499.7" stroke="#05959A" stroke-width="1.9"/>
<path d="M503.6 372.2H509.8" stroke="#05959A" stroke-width="1.9"/>
<rect x="489.2" y="368.9" width="6.6" height="6.6" fill="none" stroke="#05959A" stroke-width="1.6"/><path d="M489.2 372.2H495.8M492.5 368.9V375.5" stroke="#05959A" stroke-width="1.6"/>
<text x="137.6" y="376.9" font-size="13.3">N=10 b=2</text>
<text x="264.2" y="376.9" font-size="13.3">N=10 b=3</text>
<text x="390.6" y="376.9" font-size="13.3">N=20 b=2</text>
<text x="516.9" y="376.9" font-size="13.3">N=20 b=3</text>
</svg></body></html>
